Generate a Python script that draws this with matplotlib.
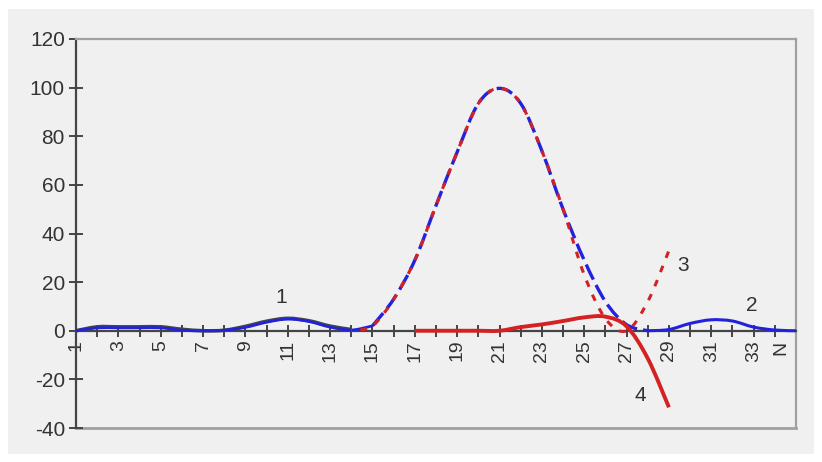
import matplotlib
matplotlib.use("Agg")
import matplotlib.pyplot as plt
from matplotlib.path import Path
from matplotlib.patches import PathPatch
import numpy as np

plt.rcParams['font.family'] = ['Liberation Sans', 'DejaVu Sans']

# ---- data -------------------------------------------------------------
categories = list(range(1, 36))
x_tick_labels = [str(k) if k % 2 == 1 else "" for k in categories]

# curve 1 (dark grey) for categories 1..14
curve1_x = list(range(1, 15))
curve1_y = [0, 1.6, 1.6, 1.6, 1.6, 0.6, 0, 0.2, 1.8, 3.9, 5.1, 4.1, 1.9, 0.5]

# curve 2 (blue) over all categories 1..35
curve2_y = [0, 1.2, 1.2, 1.2, 1.2, 0.2, 0, 0.2, 1.4, 3.5, 4.8, 3.8, 1.5, 0.3,
            2, 13, 29, 51.5, 73.5, 93.5, 99.7, 93.5, 74, 50, 29, 12, 2.5, 0,
            0.5, 3, 4.5, 4, 1.5, 0.3, 0]

# curve 3 (red dashed) categories 14..29
curve3_x = list(range(14, 30))
curve3_y = [0, 2, 13, 29, 51.5, 73.5, 93.5, 99.7, 93.5, 74, 50, 23, 5, 0, 12, 33]

# curve 4 (red solid) categories 17..29
curve4_x = list(range(17, 30))
curve4_y = [0, 0, 0, 0, 0, 1.5, 2.6, 4.0, 5.5, 5.8, 1.8, -11.4, -31.5]

curve_labels = ["1", "2", "3", "4"]
label_pos = [(10.68, 13.6), (32.9, 10.3), (29.66, 26.8), (27.63, -26.8)]

y_ticks = [-40, -20, 0, 20, 40, 60, 80, 100, 120]


def smooth_path(xs, ys):
    """Bezier path through the points (Excel-like smoothed line)."""
    p = np.column_stack([xs, ys]).astype(float)
    verts = [p[0]]
    codes = [Path.MOVETO]
    n = len(p)
    for i in range(n - 1):
        p0 = p[i - 1] if i > 0 else p[i]
        p3 = p[i + 2] if i + 2 < n else p[i + 1]
        c1 = p[i] + (p[i + 1] - p0) / 6.0
        c2 = p[i + 1] - (p3 - p[i]) / 6.0
        verts += [c1, c2, p[i + 1]]
        codes += [Path.CURVE4] * 3
    return Path(verts, codes)


def draw(ax, xs, ys, **kw):
    patch = PathPatch(smooth_path(xs, ys), fill=False, capstyle='butt', **kw)
    ax.add_patch(patch)


# ---- figure -----------------------------------------------------------
W, H = 822, 462
fig = plt.figure(figsize=(W / 100, H / 100), dpi=100, facecolor='white')
bg = fig.add_axes([8 / W, 8 / H, (814 - 8) / W, (453 - 8) / H], zorder=-10)
bg.set_facecolor('#f0f0f0')
bg.set_xticks([]); bg.set_yticks([])
for s in bg.spines.values():
    s.set_visible(False)

ax = fig.add_axes([76 / W, (H - 428) / H, (796 - 76) / W, (428 - 39) / H], zorder=1)
ax.set_facecolor('#f0f0f0')
ax.set_xlim(1, 35)
ax.set_ylim(-40, 120)

blue = '#2222dd'
red = '#d42222'
dark = '#454545'

cx = np.array(categories)
cy = np.array(curve2_y)

# curve 1
draw(ax, curve1_x, curve1_y, edgecolor=dark, lw=2.6, zorder=3)
# curve 2: solid near zero, dashed in the peak
draw(ax, cx[:15], cy[:15], edgecolor=blue, lw=2.0, zorder=4)
draw(ax, cx[14:28], cy[14:28], edgecolor=blue, lw=2.4, linestyle=(0, (5, 1.8)), zorder=4)
draw(ax, cx[27:], cy[27:], edgecolor=blue, lw=2.2, zorder=4)
# curve 3
draw(ax, curve3_x, curve3_y, edgecolor=red, lw=2.2, linestyle=(2, (2.2, 2.8)), zorder=5)
# curve 4
draw(ax, curve4_x, curve4_y, edgecolor=red, lw=2.8, zorder=6)

for t, (lx, ly) in zip(curve_labels, label_pos):
    ax.text(lx, ly, t, fontsize=15, color='#333333', ha='center', va='center', zorder=7)

# spines
for s in ['top', 'right']:
    ax.spines[s].set_color('#a0a0a0')
    ax.spines[s].set_linewidth(1.6)
ax.spines['left'].set_color(dark)
ax.spines['left'].set_linewidth(1.6)
ax.spines['bottom'].set_position(('data', 0))
ax.spines['bottom'].set_color(dark)
ax.spines['bottom'].set_linewidth(1.6)
ax.axhline(-40, color='#a0a0a0', lw=2.0, clip_on=False, zorder=1)

ax.set_yticks(y_ticks)
ax.set_yticklabels([str(v) for v in y_ticks])
ax.tick_params(axis='y', direction='inout', length=10, width=1.4, color=dark,
               labelsize=15, labelcolor='#333333', pad=3)

ax.set_xticks(categories)
ax.set_xticklabels(x_tick_labels[:-1] + [""], rotation=90, va='top', ha='center')
ax.tick_params(axis='x', direction='inout', length=9, width=1.4, color=dark,
               labelsize=14, labelcolor='#333333', pad=2)
ax.text(34.3, -4.2, "N", rotation=90, fontsize=14, color='#333333',
        ha='center', va='top')

fig.savefig('out.png', dpi=100, facecolor=fig.get_facecolor())
